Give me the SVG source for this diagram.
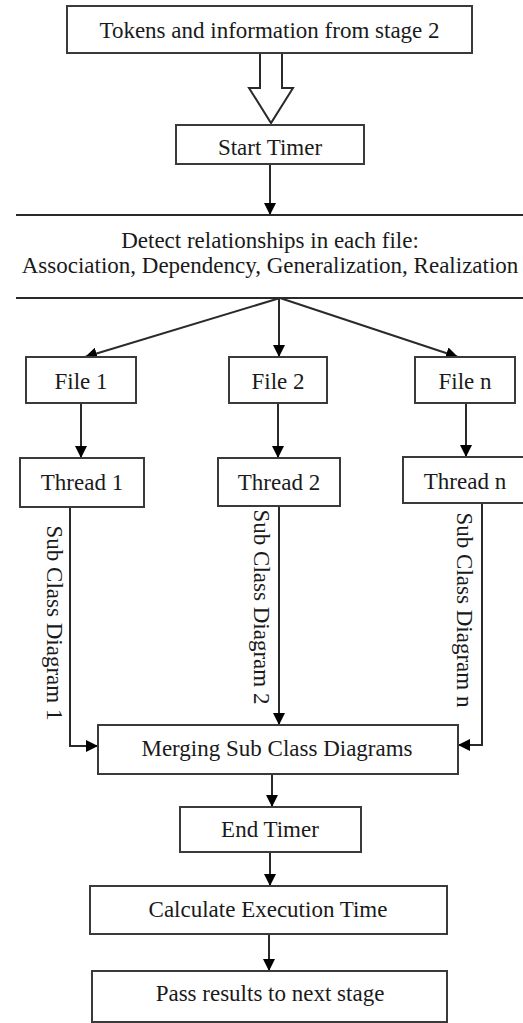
<svg xmlns="http://www.w3.org/2000/svg" width="523" height="1023" viewBox="0 0 523 1023">
  <style>
    .box { fill: #ffffff; stroke: #3a3a3a; stroke-width: 2; }
    .edge { fill: none; stroke: #2a2a2a; stroke-width: 2; }
    .lbl { font-family: "Liberation Serif", "Times New Roman", serif; font-size: 23px; fill: #1a1a1a; text-anchor: middle; }
  </style>
  <defs>
    <marker id="arrow" viewBox="0 0 12 12" refX="12" refY="6" markerWidth="12" markerHeight="12" markerUnits="userSpaceOnUse" orient="auto">
      <path d="M0,0 L12,6 L0,12 z" fill="#000000"/>
    </marker>
  </defs>
  <rect width="523" height="1023" fill="#ffffff"/>

  <!-- connectors -->
  <g id="connectors">
    <!-- hollow block arrow from input to timer start -->
    <path class="edge" d="M260,53 V88 H249 L271,123 L293,88 H282 V53" stroke="#3a3a3a"/>
    <line class="edge" x1="270" y1="164" x2="270" y2="215" marker-end="url(#arrow)"/>
    <line class="edge" x1="280" y1="298" x2="85" y2="357" marker-end="url(#arrow)"/>
    <line class="edge" x1="279" y1="298" x2="279" y2="357" marker-end="url(#arrow)"/>
    <line class="edge" x1="280" y1="298" x2="458" y2="357" marker-end="url(#arrow)"/>
    <line class="edge" x1="81" y1="403" x2="81" y2="458" marker-end="url(#arrow)"/>
    <line class="edge" x1="278" y1="403" x2="278" y2="458" marker-end="url(#arrow)"/>
    <line class="edge" x1="466" y1="403" x2="466" y2="457" marker-end="url(#arrow)"/>
    <path class="edge" d="M70,507 V746 H98" marker-end="url(#arrow)"/>
    <line class="edge" x1="279" y1="506" x2="279" y2="725" marker-end="url(#arrow)"/>
    <path class="edge" d="M482,503 V745 H458" marker-end="url(#arrow)"/>
    <line class="edge" x1="272" y1="774" x2="272" y2="807" marker-end="url(#arrow)"/>
    <line class="edge" x1="270" y1="852" x2="270" y2="886" marker-end="url(#arrow)"/>
    <line class="edge" x1="269" y1="934" x2="269" y2="971" marker-end="url(#arrow)"/>
    <!-- edge labels -->
    <text class="lbl" transform="translate(47,623) rotate(90)">Sub Class Diagram 1</text>
    <text class="lbl" transform="translate(254,607) rotate(90)">Sub Class Diagram 2</text>
    <text class="lbl" transform="translate(457,610) rotate(90)">Sub Class Diagram n</text>
  </g>

  <g id="input">
    <rect class="box" x="67" y="6" width="405" height="47"/>
    <text class="lbl" x="269.5" y="38">Tokens and information from stage 2</text>
  </g>
  <g id="start-timer">
    <rect class="box" x="176" y="125" width="188" height="39"/>
    <text class="lbl" x="270" y="155">Start Timer</text>
  </g>
  <g id="detect">
    <line class="edge" x1="16" y1="215" x2="523" y2="215" stroke="#3a3a3a"/>
    <line class="edge" x1="16" y1="298" x2="523" y2="298" stroke="#3a3a3a"/>
    <text class="lbl" x="270" y="248">Detect relationships in each file:</text>
    <text class="lbl" x="270" y="273">Association, Dependency, Generalization, Realization</text>
  </g>
  <g id="file-1">
    <rect class="box" x="26" y="357" width="110" height="46"/>
    <text class="lbl" x="81" y="389">File 1</text>
  </g>
  <g id="file-2">
    <rect class="box" x="229" y="357" width="98" height="46"/>
    <text class="lbl" x="278" y="389">File 2</text>
  </g>
  <g id="file-n">
    <rect class="box" x="415" y="357" width="100" height="46"/>
    <text class="lbl" x="465" y="389">File n</text>
  </g>
  <g id="thread-1">
    <rect class="box" x="20" y="458" width="124" height="49"/>
    <text class="lbl" x="82" y="490">Thread 1</text>
  </g>
  <g id="thread-2">
    <rect class="box" x="218" y="458" width="122" height="48"/>
    <text class="lbl" x="279" y="490">Thread 2</text>
  </g>
  <g id="thread-n">
    <rect class="box" x="403" y="457" width="130" height="46"/>
    <text class="lbl" x="465" y="489">Thread n</text>
  </g>
  <g id="merge">
    <rect class="box" x="98" y="725" width="360" height="49"/>
    <text class="lbl" x="277" y="756">Merging Sub Class Diagrams</text>
  </g>
  <g id="end-timer">
    <rect class="box" x="180" y="807" width="181" height="45"/>
    <text class="lbl" x="270" y="837">End Timer</text>
  </g>
  <g id="calc-time">
    <rect class="box" x="90" y="886" width="357" height="48"/>
    <text class="lbl" x="268" y="917">Calculate Execution Time</text>
  </g>
  <g id="pass-results">
    <rect class="box" x="92" y="971" width="355" height="51"/>
    <text class="lbl" x="270" y="1001">Pass results to next stage</text>
  </g>
</svg>
